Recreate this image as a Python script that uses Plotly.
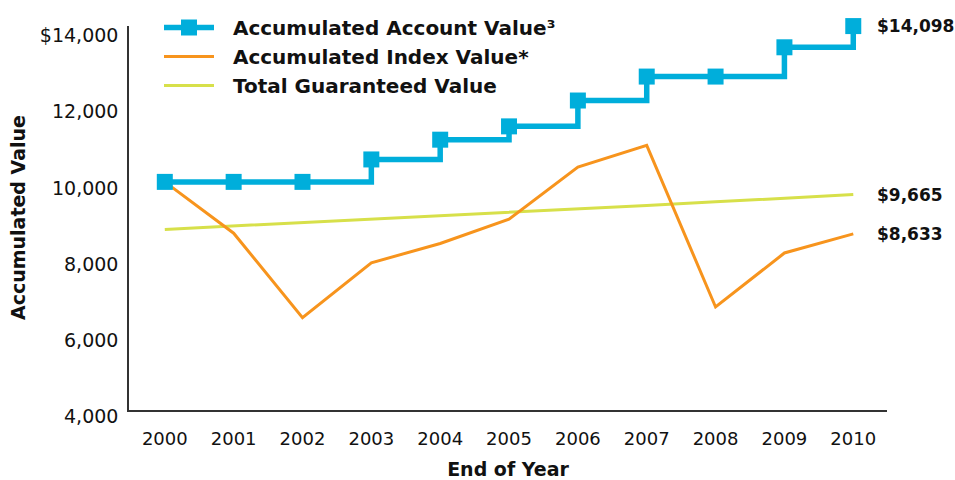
import plotly.graph_objects as go

years = [2000, 2001, 2002, 2003, 2004, 2005, 2006, 2007, 2008, 2009, 2010]
account_value = [10000, 10000, 10000, 10590, 11110, 11460, 12140, 12770, 12770, 13540, 14098]
index_value = [10000, 8650, 6430, 7870, 8380, 9020, 10390, 10960, 6710, 8130, 8633]
guaranteed_value = [8750, 8838, 8926, 9015, 9105, 9196, 9288, 9381, 9475, 9569, 9665]
y_ticks = [4000, 6000, 8000, 10000, 12000, 14000]
y_tick_labels = ["4,000", "6,000", "8,000", "10,000", "12,000", "$14,000"]
end_labels = ["$14,098", "$9,665", "$8,633"]

BLUE = "#00AEDB"
ORANGE = "#F7941D"
GREEN = "#D7E04A"
FONT = "DejaVu Sans"
INK = "#111111"
NB = "\u00a0\u00a0"

fig = go.Figure()
fig.add_trace(go.Scatter(
    x=years, y=guaranteed_value, name=NB + "Total Guaranteed Value",
    mode="lines", line=dict(color=GREEN, width=3), cliponaxis=False))
fig.add_trace(go.Scatter(
    x=years, y=index_value, name=NB + "Accumulated Index Value*",
    mode="lines", line=dict(color=ORANGE, width=3), cliponaxis=False))
fig.add_trace(go.Scatter(
    x=years, y=account_value, name=NB + "Accumulated Account Value³",
    mode="lines+markers", line=dict(color=BLUE, width=5.5, shape="hv"),
    marker=dict(symbol="square", size=16, color=BLUE), cliponaxis=False))

for val, txt in zip([account_value[-1], guaranteed_value[-1], index_value[-1]], end_labels):
    fig.add_annotation(x=years[-1], y=val, text=txt, xref="x", yref="y",
                       xanchor="left", yanchor="middle", xshift=22, showarrow=False,
                       font=dict(family=FONT, size=17, color=INK, weight="bold"))

# y-axis title
fig.add_annotation(x=-0.1464, y=0.5, xref="paper", yref="paper", text="Accumulated Value",
                   textangle=-90, showarrow=False, xanchor="center", yanchor="middle",
                   font=dict(family=FONT, size=19, weight="bold", color=INK))

fig.update_layout(
    width=955, height=480,
    margin=dict(l=129, r=68, t=26, b=70, autoexpand=False),
    paper_bgcolor="white", plot_bgcolor="white",
    font=dict(family=FONT, color=INK),
    showlegend=True,
    legend=dict(x=159 / 955, y=1 - 8 / 480, xref="container", yref="container",
                xanchor="left", yanchor="top",
                traceorder="reversed", itemwidth=50,
                font=dict(family=FONT, size=20, weight="bold", color=INK),
                bgcolor="rgba(0,0,0,0)", tracegroupgap=0),
    xaxis=dict(range=[1999.48, 2010.49], tickvals=years, ticktext=[str(y) for y in years],
               showgrid=False, zeroline=False, showline=True, linecolor="#333333", linewidth=1.5,
               ticks="", ticklabelstandoff=12, automargin=False, tickangle=0,
               tickfont=dict(family=FONT, size=18, color=INK),
               title=dict(text="End of Year", standoff=14,
                          font=dict(family=FONT, size=19, weight="bold", color=INK))),
    yaxis=dict(range=[4000, 14100], tickvals=y_ticks, ticktext=y_tick_labels,
               showgrid=False, zeroline=False, showline=True, linecolor="#333333", linewidth=1.5,
               ticks="", ticklabelstandoff=5, ticklabelshift=6, automargin=False,
               tickfont=dict(family=FONT, size=19, color=INK)),
)

fig.write_html("out.html", config={"displayModeBar": False},
               post_script="document.body.style.margin='0';")
